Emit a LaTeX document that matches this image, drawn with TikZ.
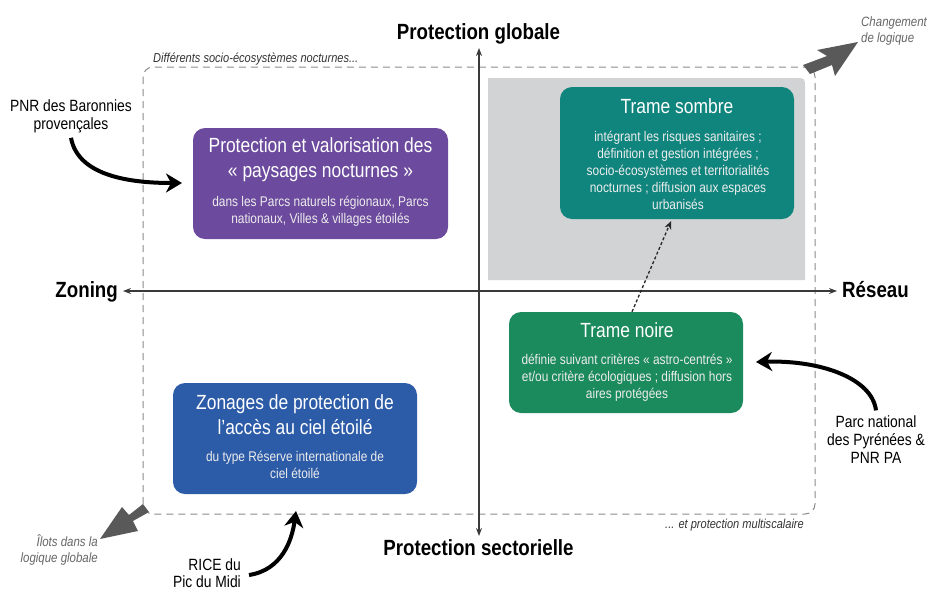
\documentclass[tikz,border=0pt]{standalone}
\usepackage{fontspec}
\setmainfont{Liberation Sans}[FakeStretch=0.85]
\usetikzlibrary{arrows.meta,calc}
\definecolor{cpurple}{HTML}{6C4A9D}
\definecolor{cblue}{HTML}{2C5BA8}
\definecolor{cteal}{HTML}{10857E}
\definecolor{cgreen}{HTML}{1B8A5D}
\definecolor{cbg}{HTML}{D1D3D4}
\definecolor{cgarrow}{HTML}{595959}
\definecolor{cdash}{HTML}{8A8A8A}
\definecolor{caxis}{HTML}{3A3A3A}
\tikzset{
  box/.style={rounded corners=12pt, inner sep=0pt},
  btitle/.style={font=\fontsize{20.5}{25}\selectfont, text=white, align=center, inner sep=0pt},
  bbody/.style={font=\fontsize{14}{16.8}\selectfont, text=white!93!black, align=center, inner sep=0pt},
  axislabel/.style={font=\bfseries\fontsize{22}{25}\selectfont, inner sep=0pt},
  note/.style={font=\itshape\fontsize{13}{16}\selectfont, text=black!80, inner sep=0pt},
  gnote/.style={font=\itshape\fontsize{13.5}{16}\selectfont, text=black!60, inner sep=0pt},
  actor/.style={font=\fontsize{16.3}{18}\selectfont, inner sep=0pt},
  axis/.style={draw=caxis, line width=1.3pt, {Stealth[length=8pt,width=6pt]}-{Stealth[length=8pt,width=6pt]}},
  curvarrow/.style={draw=black, line width=4pt, -{Stealth[length=16pt,width=19pt,inset=5pt]}},
  blockarrow/.style={fill=cgarrow},
}
\begin{document}
\begin{tikzpicture}[x=1pt,y=-1pt]
\useasboundingbox (0,0) rectangle (931,592);
% grey background area
\fill[cbg] (488,280) -- (488,78) -- (795,78) .. controls (805,78) .. (805,88) -- (805,280) -- cycle;
% dashed frame
\draw[cdash, line width=1pt, dash pattern=on 7pt off 5pt, rounded corners=10pt] (143,67) rectangle (815,514);
% notes
\node[note, anchor=base west] (n1) at (153,62) {Différents socio-écosystèmes nocturnes...};
\node[note, anchor=base east] (n2) at (804,528) {... et protection multiscalaire};
% block arrows
\fill[blockarrow] (810,74) -- (832,65) -- (835,76) -- (858,42) -- (817,50) -- (827,56) -- (803,65) -- cycle;
\fill[blockarrow] (143,504) -- (129,515) -- (122,507) -- (100,539) -- (138,531) -- (133,521) -- (149,512) -- cycle;
\node[gnote, anchor=west, align=left] (chg) at (861,31) {Changement\\de logique};
\node[gnote, anchor=east, align=right] (ilo) at (98,550) {Îlots dans la\\logique globale};
% axes
\node[axislabel, anchor=base] (pg) at (478.5,39) {Protection globale};
\node[axislabel, anchor=base] (ps) at (478.5,555) {Protection sectorielle};
\node[axislabel, anchor=base east] (zo) at (118,297.5) {Zoning};
\node[axislabel, anchor=base west] (re) at (842,297.5) {Réseau};
\coordinate (aT) at (479,48);
\coordinate (aB) at (479,536);
\coordinate (aL) at (123,291);
\coordinate (aR) at (837,291);
\draw[axis] (aB) -- (aT);
\draw[axis] (aL) -- (aR);
% boxes
\node[box, fill=cpurple, minimum width=255pt, minimum height=111pt] (pv) at (320.5,183.5) {};
\node[btitle] (pvt) at (320.5,159.5) {Protection et valorisation des\\« paysages nocturnes »};
\node[bbody] (pvb) at (320.5,211.5) {dans les Parcs naturels régionaux, Parcs\\nationaux, Villes \& villages étoilés};

\node[box, fill=cteal, minimum width=234pt, minimum height=132pt] (ts) at (677,153) {};
\node[btitle] (tst) at (677,106) {Trame sombre};
\node[bbody] (tsb) at (678,170.5) {intégrant les risques sanitaires ;\\définition et gestion intégrées ;\\socio-écosystèmes et territorialités\\nocturnes ; diffusion aux espaces\\urbanisés};

\node[box, fill=cgreen, minimum width=234pt, minimum height=101pt] (tn) at (626,362.5) {};
\node[btitle] (tnt) at (627,330) {Trame noire};
\node[bbody] (tnb) at (627,377.5) {définie suivant critères « astro-centrés »\\et/ou critère écologiques ; diffusion hors\\aires protégées};

\node[box, fill=cblue, minimum width=244pt, minimum height=111pt] (zp) at (295,438.5) {};
\node[btitle] (zpt) at (295,414.5) {Zonages de protection de\\l’accès au ciel étoilé};
\node[bbody] (zpb) at (295,465) {du type Réserve internationale de\\ciel étoilé};

% dotted link
\draw[black!85, line width=1.3pt, dash pattern=on 3pt off 2.2pt, -{Stealth[length=8pt,width=7pt]}] ([xshift=6pt]tn.north) -- ([xshift=-6pt,yshift=-2pt]ts.south);

% actors
\node[actor, align=center] (pnr) at (71,116) {PNR des Baronnies\\provençales};
\node[actor, align=center] (pnp) at (876,439.5) {Parc national\\des Pyrénées \&\\PNR PA};
\node[actor, align=right, anchor=east, font=\fontsize{16.3}{17}\selectfont] (ric) at (241,573) {RICE du\\Pic du Midi};
\coordinate (pvin) at (182,183);
\coordinate (tnin) at (756,362);
\coordinate (zpin) at (296,511);
\draw[curvarrow] ([yshift=-5pt]pnr.south) .. controls (78,176) and (130,183) .. (pvin);
\draw[curvarrow] ([yshift=5pt]pnp.north) .. controls (872,378) and (820,360) .. (tnin);
\draw[curvarrow] ([xshift=8pt,yshift=-2pt]ric.east) .. controls (282,570) and (292,540) .. (zpin);
\end{tikzpicture}
\end{document}
